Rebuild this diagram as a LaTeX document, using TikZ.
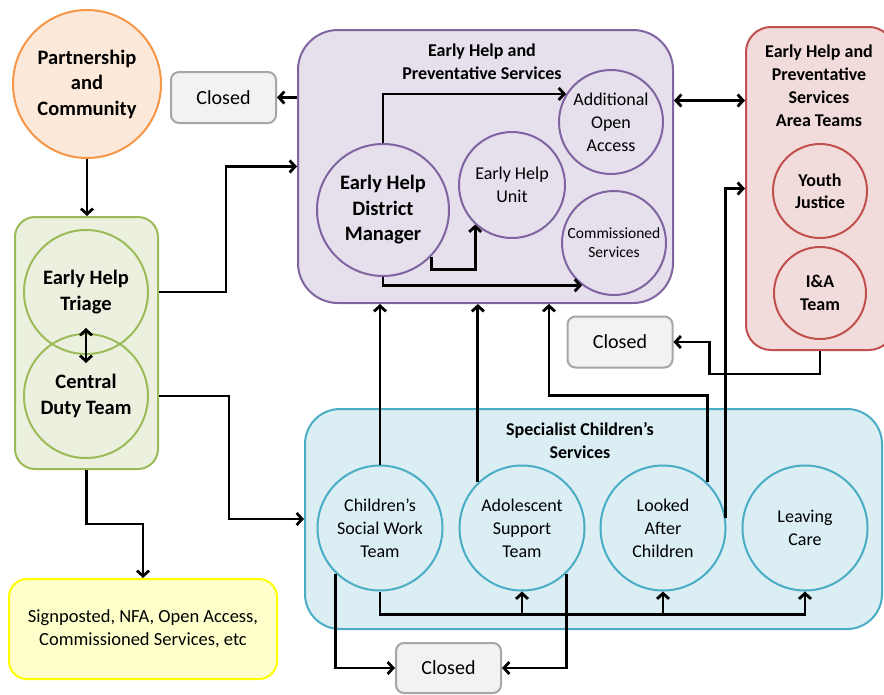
\documentclass[tikz,border=0pt]{standalone}
\usepackage{fontspec}
\setmainfont{Carlito}
\usetikzlibrary{arrows.meta,calc}
\definecolor{orgD}{HTML}{F79646}\definecolor{orgL}{HTML}{FDE9D9}
\definecolor{grnD}{HTML}{9BBB59}\definecolor{grnL}{HTML}{EBF1DE}
\definecolor{purD}{HTML}{8064A2}\definecolor{purL}{HTML}{E5E0EC}
\definecolor{redD}{HTML}{C0504D}\definecolor{redL}{HTML}{F2DCDB}
\definecolor{bluD}{HTML}{4BACC6}\definecolor{bluL}{HTML}{DAEEF3}
\definecolor{yelD}{HTML}{FFFF00}\definecolor{yelL}{HTML}{FFFFCC}
\definecolor{gryD}{HTML}{A6A6A6}\definecolor{gryL}{HTML}{F2F2F2}
\begin{document}
\begin{tikzpicture}[x=1pt,y=-1pt,
  box/.style={rectangle,line width=2pt,inner sep=0pt},
  circ/.style={circle,line width=2pt,inner sep=0pt,align=center},
  closedbox/.style={box,draw=gryD,fill=gryL,rounded corners=8pt,minimum width=105pt,minimum height=51pt,font=\fontsize{20}{24}\selectfont},
  ttl/.style={align=center,font=\fontsize{18}{23}\selectfont\bfseries},
  reg/.style={font=\fontsize{18}{23}\selectfont},
  bigb/.style={font=\fontsize{20.5}{25.5}\selectfont\bfseries},
  medb/.style={font=\fontsize{18}{22.5}\selectfont\bfseries},
  arr/.style={line width=2.8pt,-{Straight Barb[length=5.5pt,width=12pt]}},
  arrtwo/.style={line width=2.8pt,{Straight Barb[length=5.5pt,width=12pt]}-{Straight Barb[length=5.5pt,width=12pt]}}
]
\useasboundingbox (0,0) rectangle (884,694);
\clip (0,0) rectangle (884,694);
% containers
\node[box,draw=purD,fill=purL,rounded corners=40pt,minimum width=375pt,minimum height=273pt] (purple) at (485.5,166.5) {};
\node[box,draw=grnD,fill=grnL,rounded corners=20pt,minimum width=143pt,minimum height=252pt] (green) at (86.5,343) {};
\node[box,draw=bluD,fill=bluL,rounded corners=35pt,minimum width=577pt,minimum height=220pt] (blue) at (593.5,519) {};
\node[box,draw=redD,fill=redL,rounded corners=25pt,minimum width=148pt,minimum height=323pt] (red) at (820,188.5) {};
\node[box,draw=yelD,fill=yelL,rounded corners=18pt,minimum width=268pt,minimum height=100pt,align=center,font=\fontsize{18.5}{23}\selectfont] (yellow) at (143,629) {Signposted, NFA, Open Access,\\Commissioned Services, etc};
% titles
\node[ttl] (ptitle) at (482,62) {Early Help and\\Preventative Services};
\node[ttl] (rtitle) at (819,86) {Early Help and\\Preventative\\Services\\Area Teams};
\node[ttl] (btitle) at (580,441) {Specialist Children’s\\Services};
% closed boxes
\node[closedbox] (closedA) at (223.5,97.5) {Closed};
\node[closedbox] (closedB) at (620,342) {Closed};
\node[closedbox,minimum height=50pt] (closedC) at (448.5,668) {Closed};
% circles
\node[circ,draw=orgD,fill=orgL,minimum size=148pt,bigb] (part) at (87,84) {Partnership\\and\\Community};
\node[circ,draw=grnD,minimum size=124pt,bigb] (triage) at (86,292) {Early Help\\Triage};
\node[circ,draw=grnD,minimum size=124pt,bigb] (cdt) at (86,396) {Central\\Duty Team};
\node[circ,draw=purD,fill=purL,minimum size=132pt,bigb] (ehdm) at (383,210) {Early Help\\District\\Manager};
\node[circ,draw=purD,fill=purL,minimum size=106pt,reg] (ehu) at (512,185) {Early Help\\Unit};
\node[circ,draw=purD,fill=purL,minimum size=104pt,reg] (aoa) at (611,122) {Additional\\Open\\Access};
\node[circ,draw=purD,fill=purL,minimum size=104pt,font=\fontsize{15.5}{19}\selectfont] (cs) at (614,243) {Commissioned\\Services};
\node[circ,draw=redD,fill=redL,minimum size=94pt,medb] (yj) at (820,191) {Youth\\Justice};
\node[circ,draw=redD,fill=redL,minimum size=92pt,medb] (ia) at (820,293) {I\&A\\Team};
\node[circ,draw=bluD,fill=bluL,minimum size=125pt,reg] (cswt) at (380,528) {Children’s\\Social Work\\Team};
\node[circ,draw=bluD,fill=bluL,minimum size=125pt,reg] (ast) at (522,528) {Adolescent\\Support\\Team};
\node[circ,draw=bluD,fill=bluL,minimum size=125pt,reg] (lac) at (663,528) {Looked\\After\\Children};
\node[circ,draw=bluD,fill=bluL,minimum size=125pt,reg] (lc) at (805,528) {Leaving\\Care};
% connectors
\draw[arr] (part.south) -- (part.south |- green.north);
\draw[arrtwo] ([yshift=27pt]triage.south) -- ([yshift=-30pt]cdt.north);
\draw[arr] (triage -| green.east) -- ++(67,0) |- (purple.west);
\draw[arr] (cdt -| green.east) -- ++(70,0) |- (blue.west);
\draw[arr] (green.south) -- ++(0,54) -| (yellow.north);
\draw[arr] (closedA -| purple.west) -- (closedA.east);
\draw[arrtwo] ([yshift=66pt]purple.east) -- ([yshift=66pt]purple.east -| red.west);
\draw[arr] (ehdm.north) |- (aoa.148);
\draw[arr] (ehdm.-44) -- ++(0,13) -| (ehu.227);
\draw[arr] (ehdm.south) |- (cs.233);
\draw[arr] (cswt.north) -- (cswt.north |- purple.south);
\draw[arr] (ast.134) -- (ast.134 |- purple.south);
\draw[arr] (lac.46) -- ++(0,-87) -| ([xshift=63.5pt]purple.south);
\draw[arr] (lac.9) |- (red.west);
\draw[arr] (red.south) -- ++(0,23) -| ([xshift=36pt]closedB.east) -- (closedB.east);
\coordinate (bus) at ([yshift=-23pt]cswt.south);
\draw[arr] (cswt.south) -- (bus) -| (lc.south);
\draw[arr] (bus -| ast.south) -- (ast.south);
\draw[arr] (bus -| lac.south) -- (lac.south);
\draw[arr] (cswt.226) |- (closedC.west);
\draw[arr] (ast.-46) |- (closedC.east);
\end{tikzpicture}
\end{document}
